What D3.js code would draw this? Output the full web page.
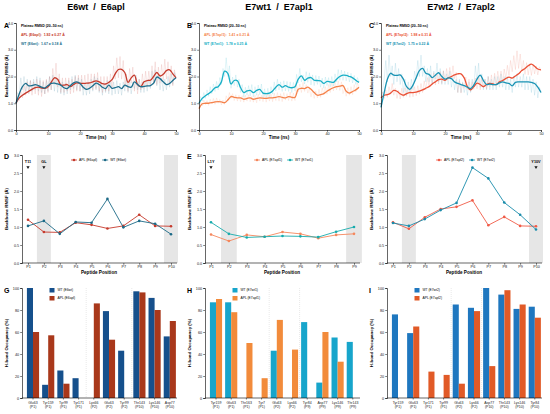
<!DOCTYPE html>
<html>
<head>
<meta charset="utf-8">
<script src="https://cdn.jsdelivr.net/npm/d3@7"></script>
<style>
  body { margin: 0; background: #fff; }
  svg { display: block; font-family: "Liberation Sans", Arial, sans-serif; }
</style>
</head>
<body>
<svg id="fig" width="550" height="414"></svg>
<script>
// ── Data ─────────────────────────────────────────────────────────────────────

const columnTitles = ["E6wt  /  E6apl", "E7wt1  /  E7apl1", "E7wt2  /  E7apl2"];
const timeTicks = [0, 10, 20, 30, 40, 50];
const rmsdTicks = [0, 1, 2, 3, 4];
const rmsfTicks = [0, 0.5, 1, 1.5, 2, 2.5, 3];
const hbondTicks = [0, 20, 40, 60, 80, 100];

// RMSD, smoothed (1 ns steps, 0–50 ns)
const aAplSmooth = [1.00,1.20,1.30,1.38,1.45,1.52,1.58,1.60,1.57,1.56,1.62,1.78,1.95,1.90,1.68,1.68,1.70,1.62,1.70,1.76,1.75,1.74,1.75,1.76,1.80,1.84,1.80,1.73,1.72,1.78,1.88,2.10,2.26,2.27,2.15,1.78,1.95,2.05,1.70,1.62,1.80,1.85,1.86,2.00,2.15,2.02,2.08,2.22,2.25,2.10,1.95];
const aWtSmooth  = [1.00,1.35,1.62,1.74,1.65,1.66,1.70,1.66,1.60,1.57,1.66,1.74,1.75,1.72,1.68,1.58,1.55,1.66,1.76,1.80,1.74,1.60,1.52,1.56,1.65,1.75,1.70,1.60,1.55,1.68,1.56,1.58,1.62,1.55,1.68,1.62,1.60,1.80,1.70,1.62,1.63,1.65,1.66,1.75,1.98,1.92,1.80,1.70,1.74,1.85,1.95];
const bAplSmooth = [0.80,0.98,1.00,1.00,1.02,1.05,1.06,1.05,1.02,1.12,1.25,1.22,1.20,1.20,1.15,1.18,1.20,1.15,1.18,1.20,1.19,1.18,1.20,1.20,1.22,1.25,1.22,1.20,1.25,1.22,1.22,1.52,1.56,1.55,1.60,1.52,1.40,1.30,1.32,1.36,1.45,1.52,1.58,1.62,1.64,1.66,1.45,1.38,1.44,1.50,1.60];
const bWtSmooth  = [1.00,1.18,1.28,1.36,1.45,1.58,1.62,1.80,2.20,2.12,1.72,1.85,1.84,1.58,1.40,1.46,1.48,1.40,1.48,1.52,1.38,1.36,1.38,1.46,1.60,1.70,1.60,1.66,1.60,1.58,1.62,1.90,2.02,1.86,1.94,1.96,1.86,1.85,1.84,1.74,1.82,1.80,1.78,1.90,2.00,2.05,2.04,2.00,1.95,1.86,1.78];
const cAplSmooth = [1.20,1.30,1.32,1.38,1.48,1.45,1.35,1.30,1.36,1.40,1.40,1.42,1.45,1.50,1.56,1.62,1.72,1.80,1.88,1.90,1.86,1.95,2.00,2.06,2.10,2.10,1.95,1.62,1.50,1.62,1.75,1.70,1.62,1.70,1.74,1.72,1.70,1.80,1.85,1.92,1.98,1.94,2.02,2.10,2.22,2.30,2.40,2.46,2.38,2.28,2.25];
const cWtSmooth  = [0.85,1.40,1.90,2.12,2.05,2.04,2.06,1.90,1.62,1.52,1.68,1.95,2.22,2.30,2.12,2.08,1.96,2.05,2.14,2.00,1.90,1.95,1.92,1.80,1.74,1.70,1.66,1.60,1.55,1.68,1.90,2.05,1.85,1.70,1.72,1.70,1.70,1.76,1.80,1.76,1.74,1.65,1.78,1.80,1.80,1.80,1.80,1.78,1.74,1.60,1.40];

// RMSD, raw frames (0.5 ns steps, 0–50 ns)
const aAplRaw = [1.00,1.20,1.10,1.45,1.20,1.65,1.30,1.80,1.35,1.85,1.30,1.80,1.35,1.90,1.30,1.85,1.25,1.85,1.35,1.90,
  1.40,2.00,1.50,2.30,1.70,2.50,1.60,2.10,1.40,1.95,1.40,1.95,1.45,1.95,1.35,1.90,1.40,2.00,1.45,2.05,
  1.45,2.05,1.50,2.05,1.50,2.10,1.55,2.10,1.50,2.10,1.55,2.15,1.45,2.00,1.40,2.00,1.45,2.00,1.45,2.10,
  1.60,2.40,1.90,2.70,1.95,2.75,1.90,2.60,1.60,2.10,1.45,2.30,1.75,2.35,1.45,1.95,1.35,1.90,1.50,2.10,
  1.55,2.20,1.60,2.20,1.70,2.40,1.80,2.55,1.70,2.35,1.75,2.45,1.85,2.65,1.90,2.55,1.75,2.40,1.65,2.25,1.95];
const aWtRaw = [1.00,1.40,1.30,1.95,1.50,2.00,1.45,1.90,1.40,1.85,1.45,1.90,1.50,2.00,1.45,1.95,1.40,1.80,1.35,1.85,
  1.45,2.00,1.50,2.05,1.45,1.95,1.40,1.90,1.35,1.80,1.30,1.75,1.35,1.85,1.50,2.00,1.55,2.05,1.50,1.95,
  1.45,1.90,1.30,1.75,1.30,1.80,1.35,1.90,1.45,2.00,1.50,1.95,1.40,1.80,1.30,1.75,1.40,1.85,1.35,1.85,
  1.30,1.80,1.35,1.85,1.35,1.75,1.30,1.80,1.45,1.95,1.40,1.85,1.35,1.80,1.55,2.05,1.50,1.90,1.40,1.80,
  1.40,1.85,1.45,1.90,1.55,2.20,1.70,2.25,1.65,2.05,1.50,1.95,1.45,1.90,1.50,2.00,1.60,2.10,1.70,2.15,1.95];
const bAplRaw = [0.80,1.05,0.90,1.12,0.95,1.10,0.92,1.15,0.98,1.18,0.96,1.20,1.00,1.14,0.94,1.12,0.96,1.28,1.10,1.40,
  1.18,1.36,1.10,1.32,1.08,1.30,1.06,1.28,1.04,1.30,1.08,1.32,1.06,1.26,1.04,1.30,1.02,1.34,1.08,1.30,
  1.06,1.32,1.04,1.36,1.08,1.34,1.06,1.38,1.10,1.40,1.08,1.36,1.06,1.40,1.12,1.36,1.10,1.42,1.08,1.38,
  1.10,1.66,1.42,1.72,1.40,1.78,1.44,1.70,1.38,1.56,1.24,1.50,1.18,1.46,1.20,1.52,1.22,1.58,1.32,1.62,
  1.34,1.70,1.40,1.78,1.46,1.82,1.50,1.84,1.48,1.80,1.36,1.56,1.26,1.58,1.30,1.62,1.32,1.70,1.42,1.76,1.60];
const bWtRaw = [1.00,1.25,1.08,1.40,1.18,1.50,1.26,1.62,1.36,1.72,1.44,1.82,1.50,1.96,1.70,2.30,2.00,2.70,2.00,2.40,
  1.56,1.98,1.66,2.06,1.60,1.90,1.40,1.70,1.22,1.60,1.30,1.66,1.28,1.70,1.24,1.62,1.30,1.68,1.32,1.72,
  1.22,1.54,1.20,1.56,1.24,1.62,1.34,1.80,1.46,1.90,1.50,1.80,1.44,1.84,1.46,1.82,1.44,1.80,1.40,1.78,
  1.46,2.08,1.76,2.30,1.80,2.06,1.72,2.18,1.78,2.14,1.68,2.06,1.66,2.04,1.70,2.02,1.60,1.94,1.56,1.98,
  1.66,1.96,1.62,2.00,1.64,2.10,1.80,2.26,1.86,2.24,1.86,2.20,1.84,2.16,1.80,2.12,1.76,2.04,1.70,1.96,1.78];
const cAplRaw = [1.20,1.42,1.18,1.50,1.22,1.62,1.34,1.74,1.30,1.56,1.18,1.48,1.16,1.56,1.22,1.58,1.26,1.60,1.22,1.58,
  1.24,1.62,1.28,1.66,1.34,1.74,1.40,1.84,1.50,1.96,1.66,2.08,1.70,2.14,1.68,2.08,1.72,2.18,1.74,2.22,
  1.86,2.30,1.90,2.34,1.94,2.40,1.92,2.16,1.40,1.84,1.38,1.76,1.56,1.98,1.52,1.90,1.44,1.80,1.52,1.94,
  1.54,1.96,1.50,1.92,1.58,1.90,1.54,2.00,1.62,2.06,1.64,2.12,1.74,2.20,1.80,2.20,1.78,2.28,1.92,2.42,
  2.04,2.60,2.18,2.78,2.26,2.96,2.30,2.84,2.20,2.60,2.08,2.52,2.06,2.48,2.04,2.46,2.10,2.40,2.06,2.36,2.22];
const cWtRaw = [0.85,1.50,1.90,2.60,1.80,2.80,2.00,2.40,1.70,2.50,1.80,2.30,1.70,2.10,1.40,1.90,1.30,1.80,1.40,1.90,
  1.50,2.20,1.90,2.60,2.00,2.80,2.00,2.40,1.80,2.30,1.80,2.40,1.70,2.20,1.90,2.50,1.80,2.30,1.70,2.20,
  1.70,2.10,1.70,2.20,1.60,2.00,1.50,1.90,1.40,1.90,1.40,1.80,1.40,1.70,1.30,1.80,1.40,1.90,1.60,2.40,
  1.80,2.50,1.60,2.10,1.50,1.90,1.50,2.00,1.50,1.90,1.50,2.00,1.50,2.00,1.60,2.10,1.60,2.00,1.50,2.00,
  1.50,1.90,1.40,2.00,1.60,2.10,1.60,2.00,1.60,2.10,1.50,2.00,1.50,2.00,1.40,1.90,1.30,1.80,1.20,1.60,1.40];

const aLegend = ["APL (E6apl):  1.92 ± 0.27 Å", "WT (E6wt):  1.67 ± 0.18 Å"];
const bLegend = ["APL (E7apl1):  1.41 ± 0.21 Å", "WT (E7wt1):  1.78 ± 0.25 Å"];
const cLegend = ["APL (E7apl2):  1.98 ± 0.31 Å", "WT (E7wt2):  1.75 ± 0.22 Å"];

// RMSF per peptide position
const positions10 = ["P1","P2","P3","P4","P5","P6","P7","P8","P9","P10"];
const positions9  = ["P1","P2","P3","P4","P5","P6","P7","P8","P9"];
const dApl = [1.20,0.86,0.85,1.12,1.06,0.96,1.03,1.34,1.03,1.02];
const dWt  = [1.03,1.17,0.81,1.14,1.12,1.78,0.99,1.17,1.09,0.80];
const eApl = [0.79,0.61,0.78,0.73,0.86,0.81,0.69,0.78,0.81];
const eWt  = [1.13,0.81,0.71,0.73,0.75,0.74,0.72,0.87,1.00];
const fApl = [1.13,0.95,1.27,1.50,1.56,1.74,1.05,1.28,1.03,1.02];
const fWt  = [1.11,1.03,1.22,1.47,1.67,2.65,2.35,1.68,1.34,0.93];
const dShaded = ["P2","P10"], eShaded = ["P2","P9"], fShaded = ["P2","P10"];
const dMarks = [["P1","T11"],["P2","GL"]];
const eMarks = [["P1","L1Y"]];
const fMarks = [["P10","Y10V"]];
const dLegend = ["APL (E6apl)", "WT (E6wt)"];
const eLegend = ["APL (E7apl1)", "WT (E7wt1)"];
const fLegend = ["APL (E7apl2)", "WT (E7wt2)"];

// H-bond occupancy (%)
const gResidues = ["Glu63 (P1)","Tyr159 (P1)","Tyr99 (P1)","Tyr171 (P1)","Lys66 (P2)","Glu63 (P2)","Tyr99 (P2)","Thr143 (P10)","Lys146 (P10)","Asp77 (P10)"];
const gWt  = [100,12,25,18,0,79,43,97,91,56];
const gApl = [60,57,13,0,86,53,0,96,80,70];
const hResidues = ["Tyr159 (P1)","Glu63 (P1)","Thr163 (P1)","Tyr7 (P1)","Glu63 (P2)","Lys66 (P2)","Tyr84 (P9)","Asp77 (P9)","Lys146 (P9)","Thr143 (P9)"];
const hWt  = [87,87,0,0,43,0,69,14,55,51];
const hApl = [90,78,50,18,71,44,0,60,33,0];
const iResidues = ["Tyr159 (P1)","Glu63 (P1)","Tyr171 (P1)","Tyr99 (P1)","Glu63 (P2)","Lys66 (P2)","Asp77 (P10)","Thr143 (P10)","Lys146 (P10)","Tyr84 (P10)"];
const iWt  = [76,59,0,0,85,82,100,94,81,83];
const iApl = [0,65,24,21,13,79,29,98,85,73];
const gLegend = ["WT (E6wt)", "APL (E6apl)"];
const hLegend = ["WT (E7wt1)", "APL (E7apl1)"];
const iLegend = ["WT (E7wt2)", "APL (E7apl2)"];

// ── Layout ───────────────────────────────────────────────────────────────────

const svg = d3.select("#fig");
const colX = [0, 183, 365];
const TICK_FS = 3.8;

function styleAxis(sel) {
  sel.select(".domain").attr("stroke", "#000").attr("stroke-width", 0.6);
  sel.selectAll(".tick line").attr("stroke", "#000").attr("stroke-width", 0.5);
  sel.selectAll("text").attr("font-size", TICK_FS).attr("fill", "#222")
    .attr("font-family", "Liberation Sans, Arial, sans-serif");
}

function panelLetter(g, txt, y) {
  g.append("text").attr("x", 4).attr("y", y).text(txt)
    .attr("font-size", 7).attr("font-weight", "bold");
}

function yLabel(g, txt, cy) {
  g.append("text").attr("transform", `translate(8,${cy}) rotate(-90)`)
    .attr("text-anchor", "middle").attr("font-size", 4.4).attr("font-weight", "bold")
    .text(txt);
}

// ── RMSD time series ─────────────────────────────────────────────────────────

function drawRmsd(ox, cfg) {
  const g = svg.append("g").attr("transform", `translate(${ox},0)`);
  const x = d3.scaleLinear().domain([0, 50]).range([16, 176]);
  const y = d3.scaleLinear().domain([0, 4]).range([130, 23]);

  const rawLine = d3.line()
    .x((d, i, arr) => x(i * 50 / (arr.length - 1)))
    .y(d => y(d));
  const smoothLine = d3.line()
    .x((d, i) => x(i))
    .y(d => y(d))
    .curve(d3.curveCatmullRom.alpha(0.5));

  [[cfg.wtRaw, cfg.wtColor], [cfg.aplRaw, cfg.aplColor]].forEach(([s, c]) => {
    g.append("path").datum(s).attr("d", rawLine)
      .attr("fill", "none").attr("stroke", c).attr("stroke-width", 0.5).attr("opacity", 0.25);
  });
  [[cfg.aplSmooth, cfg.aplColor], [cfg.wtSmooth, cfg.wtColor]].forEach(([s, c]) => {
    g.append("path").datum(s).attr("d", smoothLine)
      .attr("fill", "none").attr("stroke", c).attr("stroke-width", 1.3)
      .attr("stroke-linejoin", "round");
  });

  g.append("g").attr("transform", "translate(0,130)")
    .call(d3.axisBottom(x).tickValues(timeTicks).tickSize(1.8).tickPadding(1))
    .call(styleAxis);
  g.append("g").attr("transform", "translate(16,0)")
    .call(d3.axisLeft(y).tickValues(rmsdTicks).tickSize(1.8).tickPadding(1))
    .call(styleAxis);

  g.append("text").attr("x", 96).attr("y", 138.5).attr("text-anchor", "middle")
    .attr("font-size", 4.6).attr("font-weight", "bold").text("Time (ns)");
  yLabel(g, "Backbone RMSD (Å)", 76);
  panelLetter(g, cfg.letter, 28);

  g.append("text").attr("x", 96).attr("y", 9.5).attr("text-anchor", "middle")
    .attr("font-size", 9).attr("font-weight", "bold").attr("xml:space", "preserve")
    .text(cfg.title);

  const lg = g.append("g").attr("font-size", 3.5).attr("font-weight", "bold");
  lg.append("text").attr("x", 21).attr("y", 27).text("Plateau RMSD (20–50 ns)");
  lg.append("text").attr("x", 21).attr("y", 36).attr("fill", cfg.aplColor)
    .attr("xml:space", "preserve").text(cfg.legend[0]);
  lg.append("text").attr("x", 21).attr("y", 45).attr("fill", cfg.wtColor)
    .attr("xml:space", "preserve").text(cfg.legend[1]);
}

// ── RMSF per position ────────────────────────────────────────────────────────

function drawRmsf(ox, cfg) {
  const g = svg.append("g").attr("transform", `translate(${ox},0)`);
  const x = d3.scalePoint().domain(cfg.positions).range([28, 171]);
  const y = d3.scaleLinear().domain([0, 3]).range([263, 155]);
  const bw = x.step() * 0.88;

  g.selectAll("rect.shade").data(cfg.shaded).join("rect")
    .attr("x", d => x(d) - bw / 2).attr("width", bw)
    .attr("y", y(3)).attr("height", y(0) - y(3))
    .attr("fill", "#e6e6e6");

  const line = d3.line().x((d, i) => x(cfg.positions[i])).y(d => y(d));
  [[cfg.apl, cfg.aplColor], [cfg.wt, cfg.wtColor]].forEach(([s, c]) => {
    g.append("path").datum(s).attr("d", line)
      .attr("fill", "none").attr("stroke", c).attr("stroke-width", 0.9);
    g.selectAll(null).data(s).join("circle")
      .attr("cx", (d, i) => x(cfg.positions[i])).attr("cy", d => y(d))
      .attr("r", 1.3).attr("fill", c);
  });

  cfg.marks.forEach(([p, label]) => {
    g.append("text").attr("x", x(p)).attr("y", 162.5).attr("text-anchor", "middle")
      .attr("font-size", 3.8).attr("font-weight", "bold").text(label);
    const cx = x(p), cy = 167.5;
    g.append("path").attr("d", `M${cx - 1.6},${cy - 1.3}L${cx + 1.6},${cy - 1.3}L${cx},${cy + 1.4}Z`)
      .attr("fill", "#111");
  });

  g.append("g").attr("transform", "translate(0,263)")
    .call(d3.axisBottom(x).tickSize(1.8).tickPadding(1))
    .call(styleAxis)
    .call(s => s.select(".domain").attr("d", "M22,0H177"));
  g.append("g").attr("transform", "translate(22,0)")
    .call(d3.axisLeft(y).tickValues(rmsfTicks).tickFormat(d3.format(".1f")).tickSize(1.8).tickPadding(1))
    .call(styleAxis);

  g.append("text").attr("x", 99).attr("y", 274).attr("text-anchor", "middle")
    .attr("font-size", 4.6).attr("font-weight", "bold").text("Peptide Position");
  yLabel(g, "Backbone RMSF (Å)", 209);
  panelLetter(g, cfg.letter, 159);

  // legend: items laid out one after another
  const lg = g.append("g").attr("font-size", 3.4);
  let lx = 74;
  [[cfg.legend[0], cfg.aplColor], [cfg.legend[1], cfg.wtColor]].forEach(([t, c]) => {
    lg.append("line").attr("x1", lx - 3).attr("x2", lx + 3).attr("y1", 160).attr("y2", 160)
      .attr("stroke", c).attr("stroke-width", 0.8);
    lg.append("circle").attr("cx", lx).attr("cy", 160).attr("r", 1.3).attr("fill", c);
    const tx = lg.append("text").attr("x", lx + 5).attr("y", 161.2).text(t);
    lx = lx + 5 + tx.node().getComputedTextLength() + 8;
  });
}

// ── H-bond occupancy bars ────────────────────────────────────────────────────

function drawHbond(ox, cfg) {
  const g = svg.append("g").attr("transform", `translate(${ox},0)`);
  const x = d3.scaleBand().domain(cfg.residues).range([25.4, 177.4])
    .paddingInner(0.2).paddingOuter(0.1);
  const xs = d3.scaleBand().domain(["wt", "apl"]).range([0, x.bandwidth()]);
  const y = d3.scaleLinear().domain([0, 100]).range([398, 288]);

  // separators between peptide-position groups
  const grp = cfg.residues.map(r => r.split(" ")[1]);
  for (let i = 1; i < grp.length; i++) {
    if (grp[i] !== grp[i - 1]) {
      const sx = (x(cfg.residues[i - 1]) + x.bandwidth() + x(cfg.residues[i])) / 2;
      g.append("line").attr("x1", sx).attr("x2", sx).attr("y1", y(100)).attr("y2", y(0))
        .attr("stroke", "#c8c8c8").attr("stroke-width", 0.4).attr("stroke-dasharray", "1,1");
    }
  }

  const rows = cfg.residues.map((r, i) => ({ r, wt: cfg.wt[i], apl: cfg.apl[i] }));
  ["wt", "apl"].forEach(k => {
    g.selectAll(null).data(rows).join("rect")
      .attr("x", d => x(d.r) + xs(k)).attr("width", xs.bandwidth())
      .attr("y", d => y(d[k])).attr("height", d => y(0) - y(d[k]))
      .attr("fill", k === "wt" ? cfg.wtColor : cfg.aplColor);
  });

  const xa = g.append("g").attr("transform", "translate(0,398)")
    .call(d3.axisBottom(x).tickSize(1.5).tickPadding(1.5).tickFormat(""))
    .call(styleAxis)
    .call(s => s.select(".domain").attr("d", "M22,0H177"));
  xa.selectAll(".tick").append("text")
    .attr("text-anchor", "middle").attr("font-size", 3.5).attr("fill", "#222")
    .selectAll("tspan").data(d => d.split(" ")).join("tspan")
    .attr("x", 0).attr("y", (d, i) => 6 + i * 4.2).text(d => d);

  g.append("g").attr("transform", "translate(22,0)")
    .call(d3.axisLeft(y).tickValues(hbondTicks).tickSize(1.8).tickPadding(1))
    .call(styleAxis);

  yLabel(g, "H-bond Occupancy (%)", 343);
  panelLetter(g, cfg.letter, 293);

  const lg = g.append("g").attr("font-size", 3.3);
  [[cfg.legend[0], cfg.wtColor, 288], [cfg.legend[1], cfg.aplColor, 296]].forEach(([t, c, ly]) => {
    lg.append("rect").attr("x", 49.5).attr("y", ly).attr("width", 5).attr("height", 4.5).attr("fill", c);
    lg.append("text").attr("x", 57.5).attr("y", ly + 3.4).text(t);
  });
}

// ── Panels ───────────────────────────────────────────────────────────────────

drawRmsd(colX[0], { letter: "A", title: columnTitles[0], legend: aLegend,
  aplSmooth: aAplSmooth, wtSmooth: aWtSmooth, aplRaw: aAplRaw, wtRaw: aWtRaw,
  aplColor: "#c63a2c", wtColor: "#1e6f8e" });
drawRmsd(colX[1], { letter: "B", title: columnTitles[1], legend: bLegend,
  aplSmooth: bAplSmooth, wtSmooth: bWtSmooth, aplRaw: bAplRaw, wtRaw: bWtRaw,
  aplColor: "#f5834c", wtColor: "#18afc6" });
drawRmsd(colX[2], { letter: "C", title: columnTitles[2], legend: cLegend,
  aplSmooth: cAplSmooth, wtSmooth: cWtSmooth, aplRaw: cAplRaw, wtRaw: cWtRaw,
  aplColor: "#ea5136", wtColor: "#1a93b4" });

drawRmsf(colX[0], { letter: "D", positions: positions10, apl: dApl, wt: dWt,
  shaded: dShaded, marks: dMarks, legend: dLegend, aplColor: "#c63a2c", wtColor: "#1c6a87" });
drawRmsf(colX[1], { letter: "E", positions: positions9, apl: eApl, wt: eWt,
  shaded: eShaded, marks: eMarks, legend: eLegend, aplColor: "#f5875c", wtColor: "#17abad" });
drawRmsf(colX[2], { letter: "F", positions: positions10, apl: fApl, wt: fWt,
  shaded: fShaded, marks: fMarks, legend: fLegend, aplColor: "#f05b47", wtColor: "#1a8cab" });

drawHbond(colX[0], { letter: "G", residues: gResidues, wt: gWt, apl: gApl,
  legend: gLegend, wtColor: "#16508c", aplColor: "#a9381b" });
drawHbond(colX[1], { letter: "H", residues: hResidues, wt: hWt, apl: hApl,
  legend: hLegend, wtColor: "#17a5cb", aplColor: "#f28b3b" });
drawHbond(colX[2], { letter: "I", residues: iResidues, wt: iWt, apl: iApl,
  legend: iLegend, wtColor: "#1f77bf", aplColor: "#e15a27" });
</script>
</body>
</html>
